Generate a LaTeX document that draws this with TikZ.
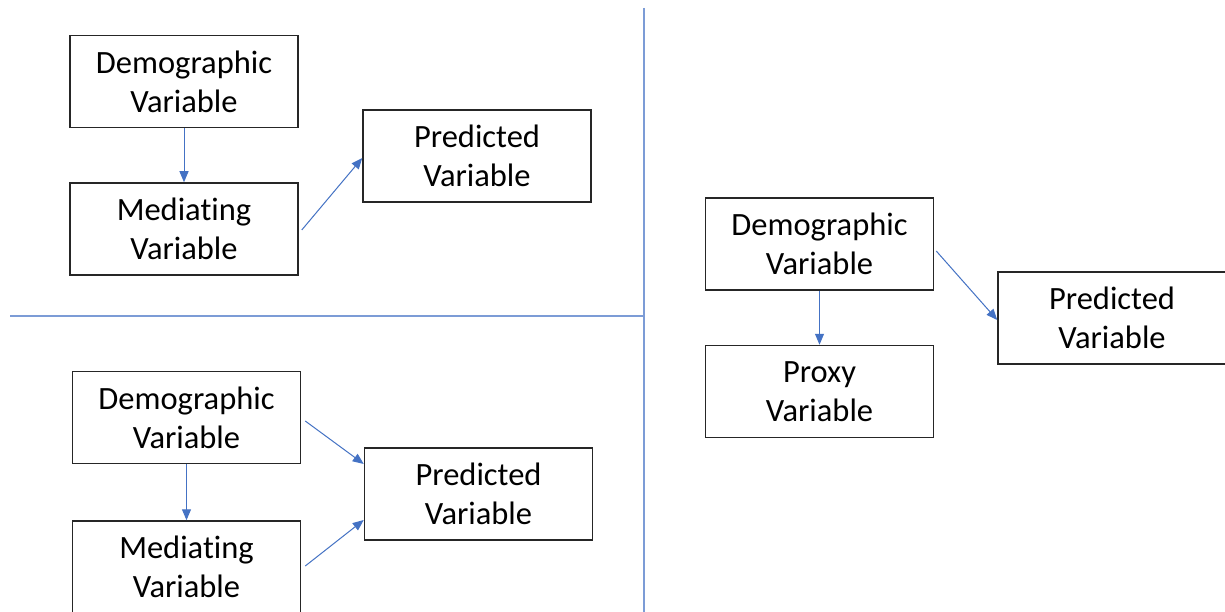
\documentclass[tikz,border=0pt]{standalone}
\usepackage{fontspec}
\setmainfont{Carlito}[Ligatures=NoCommon]
\usetikzlibrary{arrows.meta}
\definecolor{linkblue}{RGB}{68,114,196}
\tikzset{
  varbox/.style={draw=black!85, line width=1.5pt, fill=white, minimum width=228pt, minimum height=92pt,
    align=center, inner sep=0pt, font=\fontsize{32.5}{39}\selectfont},
  link/.style={draw=linkblue, line width=1pt, -{Triangle[length=11pt,width=9pt]}},
  divider/.style={draw=linkblue!70, line width=1.2pt}
}
\begin{document}
\begin{tikzpicture}[x=1pt, y=-1pt]
\useasboundingbox (0,0) rectangle (1225,612);
\clip (0,0) rectangle (1225,612);
\fill[white] (0,0) rectangle (1225,612);

% panel dividers
\coordinate (hl) at (10,316);
\coordinate (hr) at (644,316);
\coordinate (vt) at (644,8);
\coordinate (vb) at (644,620);
\draw[divider] (hl) -- (hr);
\draw[divider] (vt) -- (vb);

% top-left: mediation
\node[varbox] (d1) at (184,81.5) {Demographic\\Variable};
\node[varbox] (m1) at (184,229) {Mediating\\Variable};
\node[varbox] (p1) at (477,156) {Predicted\\Variable};
\draw[link] (d1.south) -- (m1.north);
\draw[link] ([xshift=3pt,yshift=-1pt]m1.east) -- ([yshift=-2pt]p1.west);

% bottom-left: partial mediation
\node[varbox] (d2) at (186.5,417.5) {Demographic\\Variable};
\node[varbox] (m2) at (186.5,567) {Mediating\\Variable};
\node[varbox] (p2) at (478.5,494) {Predicted\\Variable};
\draw[link] (d2.south) -- (m2.north);
\draw[link] ([xshift=4pt,yshift=-3.5pt]d2.east) -- ([yshift=30pt]p2.west);
\draw[link] ([xshift=4pt,yshift=1pt]m2.east) -- ([yshift=-26pt]p2.west);

% right: proxy
\node[varbox] (d3) at (819.5,244) {Demographic\\Variable};
\node[varbox] (x3) at (819.5,391.5) {Proxy\\Variable};
\node[varbox] (p3) at (1112,318) {Predicted\\Variable};
\draw[link] (d3.south) -- (x3.north);
\draw[link] ([xshift=2pt,yshift=-7pt]d3.east) -- ([yshift=-2pt]p3.west);
\end{tikzpicture}
\end{document}
